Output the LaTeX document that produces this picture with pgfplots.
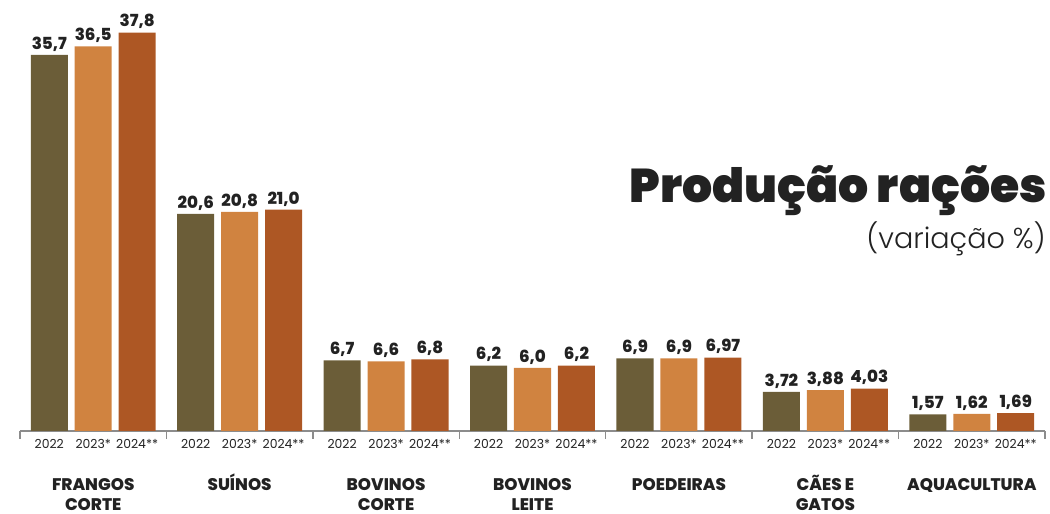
\documentclass[border=0pt]{standalone}
\usepackage{fontspec}
\setmainfont{Poppins}
\newfontfamily\titlefont{Poppins Black}
\newfontfamily\xbold{Poppins ExtraBold}
\newfontfamily\lightfont{Poppins Light}
\usepackage{pgfplots}
\pgfplotsset{compat=1.18}
\definecolor{cA}{HTML}{6B5D38}
\definecolor{cB}{HTML}{D08340}
\definecolor{cC}{HTML}{AD5724}
\definecolor{txt}{HTML}{222222}

\pgfplotstableread{
x y lab
-0.3 35.7 35,7
0.7 20.6 20,6
1.7 6.7 6,7
2.7 6.2 6,2
3.7 6.9 6,9
4.7 3.72 3,72
5.7 1.57 1,57
}\tA
\pgfplotstableread{
x y lab
0 36.5 36,5
1 20.8 20,8
2 6.6 6,6
3 6.0 6,0
4 6.9 6,9
5 3.88 3,88
6 1.62 1,62
}\tB
\pgfplotstableread{
x y lab
0.3 37.8 37,8
1.3 21.0 21,0
2.3 6.8 6,8
3.3 6.2 6,2
4.3 6.97 6,97
5.3 4.03 4,03
6.3 1.69 1,69
}\tC

\begin{document}
\begin{tikzpicture}
\path[use as bounding box] (-15pt,-62.25pt) rectangle (772.5pt,323.25pt);
\begin{axis}[
  at={(0,0)}, anchor=south west,
  scale only axis, width=768.75pt, height=323.25pt,
  xmin=-0.5, xmax=6.5, ymin=0, ymax=40.9,
  axis x line=bottom, axis y line=none,
  axis line style={-, draw=gray!90, line width=1.1pt},
  xtick={-0.5,0.5,...,6.5}, xticklabels={},
  xtick align=outside, major tick length=6pt,
  xtick style={draw=gray!90, line width=1.1pt},
  ytick=\empty,
  clip=false,
  ybar, bar shift=0pt, bar width=0.253,
  point meta=explicit symbolic,
  nodes near coords,
  nodes near coords style={font=\xbold\fontsize{12.5}{14}\selectfont, text=txt, inner sep=2.5pt, anchor=south},
]
\addplot[fill=cA, draw=none] table[x=x, y=y, meta=lab] {\tA};
\addplot[fill=cB, draw=none] table[x=x, y=y, meta=lab] {\tB};
\addplot[fill=cC, draw=none] table[x=x, y=y, meta=lab] {\tC};

\tikzset{yr/.style={anchor=base, font=\fontsize{9.3}{11}\selectfont, text=txt, yshift=-13pt}}
\pgfplotsinvokeforeach{0,...,6}{
  \node[yr] at (axis cs:#1,0) [xshift=-32.95pt] {2022};
  \node[yr] at (axis cs:#1,0) {2023*};
  \node[yr] at (axis cs:#1,0) [xshift=32.95pt] {2024**};
}
\tikzset{cat/.style={anchor=base, font=\xbold\fontsize{12.6}{14}\selectfont, text=txt}}
\node[cat] at (axis cs:0,0) [yshift=-45pt] {FRANGOS};
\node[cat] at (axis cs:0,0) [yshift=-59.25pt] {CORTE};
\node[cat] at (axis cs:1,0) [yshift=-45pt] {SUÍNOS};
\node[cat] at (axis cs:2,0) [yshift=-45pt] {BOVINOS};
\node[cat] at (axis cs:2,0) [yshift=-59.25pt] {CORTE};
\node[cat] at (axis cs:3,0) [yshift=-45pt] {BOVINOS};
\node[cat] at (axis cs:3,0) [yshift=-59.25pt] {LEITE};
\node[cat] at (axis cs:4,0) [yshift=-45pt] {POEDEIRAS};
\node[cat] at (axis cs:5,0) [yshift=-45pt] {CÃES E};
\node[cat] at (axis cs:5,0) [yshift=-59.25pt] {GATOS};
\node[cat] at (axis cs:6,0) [yshift=-45pt] {AQUACULTURA};
\end{axis}
\node[anchor=base east, inner sep=0pt, text=txt, font=\titlefont\fontsize{35.5}{40}\selectfont] at (770.25pt,171pt) {Produção rações};
\node[anchor=base east, inner sep=0pt, text=txt, font=\lightfont\fontsize{21.5}{26}\selectfont] at (769.5pt,136.5pt) {(variação \%)};
\end{tikzpicture}
\end{document}
